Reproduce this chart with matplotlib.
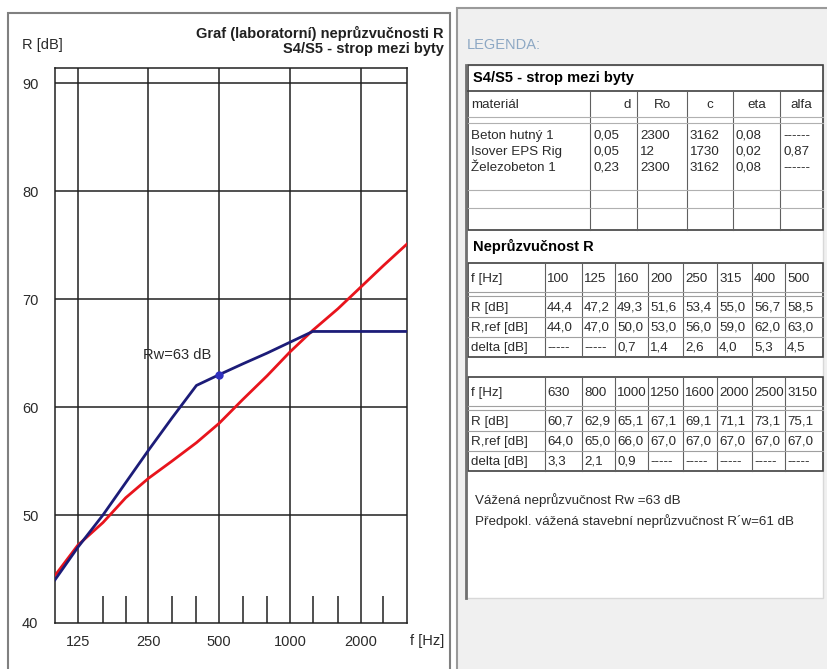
import matplotlib.pyplot as plt
from matplotlib.patches import Rectangle

# ------------------------------
# Données
# ------------------------------
freqs = [100, 125, 160, 200, 250, 315, 400, 500, 630, 800, 1000, 1250, 1600, 2000, 2500, 3150]
R = [44.4, 47.2, 49.3, 51.6, 53.4, 55.0, 56.7, 58.5, 60.7, 62.9, 65.1, 67.1, 69.1, 71.1, 73.1, 75.1]
R_ref = [44.0, 47.0, 50.0, 53.0, 56.0, 59.0, 62.0, 63.0, 64.0, 65.0, 66.0, 67.0, 67.0, 67.0, 67.0, 67.0]
delta = ["-----", "-----", "0,7", "1,4", "2,6", "4,0", "5,3", "4,5",
         "3,3", "2,1", "0,9", "-----", "-----", "-----", "-----", "-----"]

materials = ["Beton hutný 1", "Isover EPS Rig", "Železobeton 1"]
thick_d = ["0,05", "0,05", "0,23"]
density = ["2300", "12", "2300"]
speed_c = ["3162", "1730", "3162"]
eta = ["0,08", "0,02", "0,08"]
alfa = ["------", "0,87", "------"]

major_f = [125, 250, 500, 1000, 2000]
minor_f = [160, 200, 315, 400, 630, 800, 1250, 1600, 2500]
y_grid = [50, 60, 70, 80, 90]
Rw = 63

plt.rcParams["font.family"] = ["Liberation Sans", "DejaVu Sans"]
FS = 10.5   # graphique
TS = 9.6    # tableaux
TXT = "#2a2a2a"

W, H = 827, 669
fig = plt.figure(figsize=(W / 100, H / 100), dpi=100)
fig.patch.set_facecolor("white")

# fond en pixels
bg = fig.add_axes([0, 0, 1, 1])
bg.set_xlim(0, W)
bg.set_ylim(H, 0)
bg.axis("off")

# panneau gauche
bg.add_patch(Rectangle((8, 13), 442, 700, facecolor="white", edgecolor="#808080", lw=1.5))
# panneau droit
bg.add_patch(Rectangle((457, 8), 380, 700, facecolor="#f0f0f0", edgecolor="#9a9a9a", lw=1.5))
bg.add_patch(Rectangle((466, 65), 357, 533, facecolor="white", edgecolor="#d8d8d8", lw=1))
bg.plot([466, 466], [65, 598], color="#707070", lw=2)

# ------------------------------
# Graphique
# ------------------------------
ax = fig.add_axes([55 / W, 1 - 623 / H, 352 / W, 555 / H])
ax.set_xscale("log")
ax.set_xlim(100, 3150)
ax.set_ylim(40, 91.4)
for f in major_f:
    ax.axvline(f, color="#202020", lw=1.1, zorder=1)
for y in y_grid:
    ax.axhline(y, color="#202020", lw=1.1, zorder=1)
ax.vlines(minor_f, 40, 42.5, color="#202020", lw=1.1, zorder=1)

ax.plot(freqs, R, color="#e8141c", lw=2, zorder=3)
ax.plot(freqs, R_ref, color="#1c1c78", lw=2, zorder=4)
ax.plot([500], [Rw], marker="o", ms=5, color="#3030c0", zorder=5)
ax.text(462, 64.8, "Rw=63 dB", fontsize=FS, ha="right", va="center", color=TXT)

ax.set_xticks(major_f)
ax.set_xticklabels([str(f) for f in major_f])
ax.set_xticks([], minor=True)
ax.set_yticks([40] + y_grid)
ax.tick_params(length=0, labelsize=FS, colors=TXT)
ax.tick_params(axis="x", pad=9)
ax.tick_params(axis="y", pad=12)
for s in ax.spines.values():
    s.set_color("#202020")
    s.set_linewidth(1.1)

bg.text(22, 45, "R [dB]", fontsize=FS, va="center", color=TXT)
bg.text(427, 641, "f [Hz]", fontsize=FS, va="center", ha="center", color=TXT)
bg.text(444, 33, "Graf (laboratorní) neprůzvučnosti R", fontsize=FS, fontweight="bold",
        ha="right", va="center", color="#202020")
bg.text(444, 49, "S4/S5 - strop mezi byty", fontsize=FS, fontweight="bold",
        ha="right", va="center", color="#202020")

# ------------------------------
# Légende (tableaux)
# ------------------------------
bg.text(467, 45, "LEGENDA:", fontsize=FS, color="#8da8c4", va="center")

LC = "#606060"
bg.add_patch(Rectangle((468, 65), 355, 165, facecolor="none", edgecolor="#404040", lw=1.2))
bg.text(473, 78, "S4/S5 - strop mezi byty", fontsize=FS, fontweight="bold", va="center")
bg.plot([468, 823], [91, 91], color="#404040", lw=1.2)

cols = [468, 590, 637, 687, 733, 780, 823]
for x in cols[1:-1]:
    bg.plot([x, x], [91, 230], color=LC, lw=0.8)
for y in [117, 123, 190, 208]:
    bg.plot([468, 823], [y, y], color="#b0b0b0", lw=0.8)

headers = ["materiál", "d", "Ro", "c", "eta", "alfa"]
bg.text(471, 108, headers[0], fontsize=TS, va="baseline", color=TXT)
bg.text(cols[2] - 6, 108, headers[1], fontsize=TS, va="baseline", ha="right", color=TXT)
for i in range(2, 6):
    bg.text((cols[i] + cols[i + 1]) / 2, 108, headers[i], fontsize=TS, va="baseline",
            ha="center", color=TXT)

rows = list(zip(materials, thick_d, density, speed_c, eta, alfa))
for r, row in enumerate(rows):
    y = 139 + r * 16
    for i, val in enumerate(row):
        bg.text(cols[i] + 3, y, val, fontsize=TS, va="baseline", color=TXT)

bg.text(473, 246, "Neprůzvučnost R", fontsize=FS, fontweight="bold", va="center")

cols2 = [468, 545, 582, 615, 648, 683, 717, 752, 785, 823]


def freq_table(top, fs, rv, rr, dv):
    bot = top + 94
    bg.add_patch(Rectangle((468, top), 355, 94, facecolor="none", edgecolor="#404040", lw=1.2))
    for x in cols2[1:-1]:
        bg.plot([x, x], [top, bot], color=LC, lw=0.8)
    for y in [top + 29, top + 33, top + 54, top + 74]:
        bg.plot([468, 823], [y, y], color="#a0a0a0", lw=0.8)
    labels = ["f [Hz]", "R [dB]", "R,ref [dB]", "delta [dB]"]
    ys = [top + 19, top + 48, top + 68, top + 88]
    data = [[str(f) for f in fs],
            [f"{v:.1f}".replace(".", ",") for v in rv],
            [f"{v:.1f}".replace(".", ",") for v in rr],
            dv]
    for lab, y, vals in zip(labels, ys, data):
        bg.text(471, y, lab, fontsize=TS, va="baseline", color=TXT)
        for i, v in enumerate(vals):
            bg.text(cols2[i + 1] + 2, y, v, fontsize=TS, va="baseline", color=TXT)


freq_table(263, freqs[:8], R[:8], R_ref[:8], delta[:8])
freq_table(377, freqs[8:], R[8:], R_ref[8:], delta[8:])

bg.text(475, 500, "Vážená neprůzvučnost Rw =63 dB", fontsize=TS, va="center", color=TXT)
bg.text(475, 521, "Předpokl. vážená stavební neprůzvučnost R´w=61 dB", fontsize=TS,
        va="center", color=TXT)

fig.savefig("out.png", dpi=100)
